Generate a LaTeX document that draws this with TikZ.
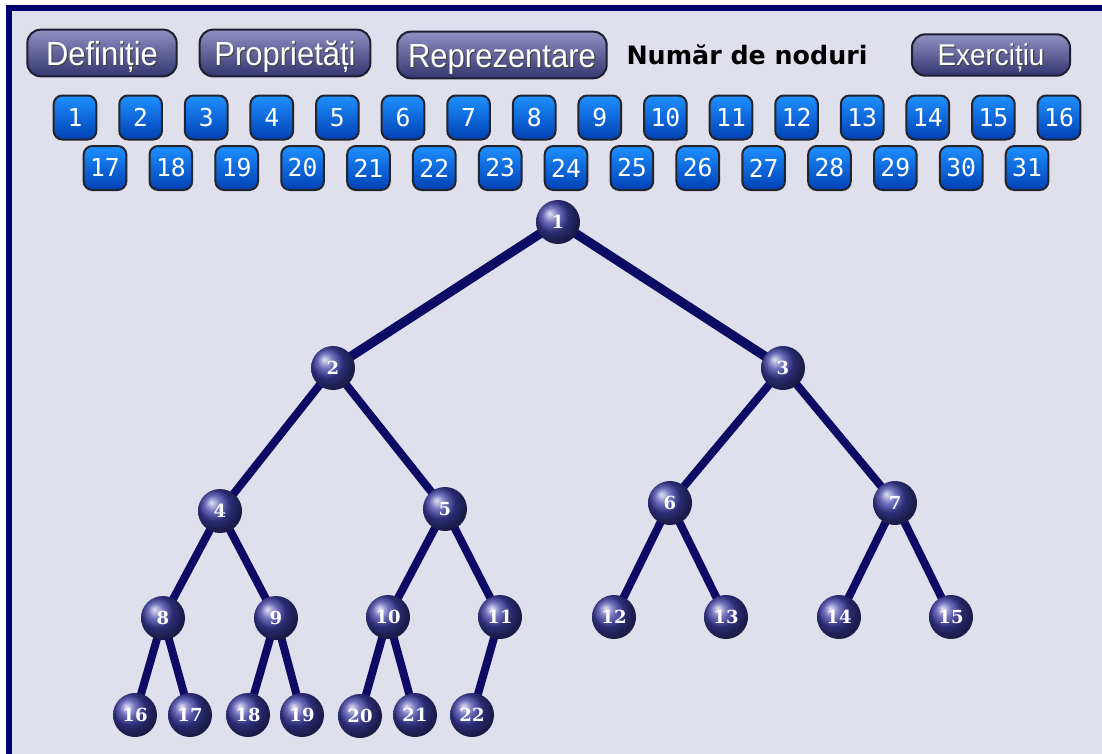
\documentclass[tikz,border=0pt]{standalone}
\usepackage{fontspec}
\setmainfont{Liberation Sans}
\newfontfamily\btnfont{Liberation Sans}
\newfontfamily\numfont{DejaVu Sans Mono}
\newfontfamily\ballfont{DejaVu Serif}
\newfontfamily\headfont{DejaVu Sans}

\definecolor{pagebg}{RGB}{224,224,236}
\definecolor{framec}{RGB}{0,0,112}
\definecolor{btntop}{RGB}{145,145,195}
\definecolor{btnbot}{RGB}{52,52,112}
\definecolor{btnedge}{RGB}{30,30,50}
\definecolor{boxtop}{RGB}{30,144,255}
\definecolor{boxbot}{RGB}{0,64,180}
\definecolor{boxedge}{RGB}{35,35,45}
\definecolor{ballc}{RGB}{62,62,165}
\definecolor{linkc}{RGB}{12,12,100}

% white label with a soft dark offset copy behind it
\newcommand\shtext[1]{\rlap{\kern0.9pt\raisebox{-0.9pt}{\textcolor{black!75}{#1}}}#1}

\pgfdeclarelayer{bg}
\pgfdeclarelayer{edgelayer}
\pgfsetlayers{bg,edgelayer,main}

\tikzset{
  menubtn/.style={draw=btnedge, line width=1.5pt, rounded corners=10pt,
    top color=btntop, bottom color=btnbot, inner sep=0pt, text=white,
    text height=18pt, text depth=0pt,
    font=\btnfont\fontsize{25}{25}\selectfont},
  numbox/.style={draw=boxedge, line width=1.5pt, rounded corners=6.5pt,
    top color=boxtop, bottom color=boxbot, minimum width=32pt,
    minimum height=33pt, inner sep=0pt, text=white,
    font=\numfont\fontsize{18.5}{18.5}\selectfont},
  ball/.style={circle, ball color=ballc, minimum size=33pt, inner sep=0pt,
    text=white, font=\ballfont\bfseries\fontsize{13.5}{13.5}\selectfont},
  link/.style={draw=linkc, line width=6pt},
  toplink/.style={draw=linkc, line width=7pt},
}

\begin{document}
\begin{tikzpicture}[x=0.75pt, y=-0.75pt]
\useasboundingbox (0,0) rectangle (1102,753);
\clip (0,0) rectangle (1102,753);

\begin{pgfonlayer}{bg}
  \fill[white] (0,0) rectangle (1102,753);
  \draw[framec, fill=pagebg, line width=4.5pt] (9,8) rectangle (1200,900);
\end{pgfonlayer}

% menu buttons
\node[menubtn, minimum width=112pt, minimum height=35pt] (bdef) at (102,53)
  {\scalebox{0.93}[1]{\shtext{Definiție}}};
\node[menubtn, minimum width=128pt, minimum height=35pt] (bprop) at (285,53)
  {\scalebox{0.93}[1]{\shtext{Proprietăți}}};
\node[menubtn, minimum width=157pt, minimum height=35pt] (brep) at (502,55)
  {\scalebox{0.93}[1]{\shtext{Reprezentare}}};
\node[font=\headfont\bfseries\fontsize{19}{19}\selectfont, inner sep=0pt] (title) at (747,55)
  {Număr de noduri};
\node[menubtn, minimum width=118.5pt, minimum height=31pt, text height=16pt,
  font=\btnfont\fontsize{22.5}{22.5}\selectfont] (bex) at (991,55)
  {\scalebox{0.93}[1]{\shtext{Exercițiu}}};

% numbered buttons
\foreach \i in {1,...,16}
  \node[numbox] (n\i) at ({75+65.6*(\i-1)},117.5) {\i};
\foreach \i in {17,...,31}
  \node[numbox] (n\i) at ({105+65.86*(\i-17)},168) {\i};

% tree nodes
\node[ball] (t1) at (558,222) {1};
\node[ball] (t2) at (333,368) {2};
\node[ball] (t3) at (783,368) {3};
\node[ball] (t4) at (220,511) {4};
\node[ball] (t5) at (445,509) {5};
\node[ball] (t6) at (670,503) {6};
\node[ball] (t7) at (895,503) {7};
\node[ball] (t8) at (163,618) {8};
\node[ball] (t9) at (276,618) {9};
\node[ball] (t10) at (388,617) {10};
\node[ball] (t11) at (500,617) {11};
\node[ball] (t12) at (614,617) {12};
\node[ball] (t13) at (726,617) {13};
\node[ball] (t14) at (839,617) {14};
\node[ball] (t15) at (951,617) {15};
\node[ball] (t16) at (135,715) {16};
\node[ball] (t17) at (190,715) {17};
\node[ball] (t18) at (248,715) {18};
\node[ball] (t19) at (302,715) {19};
\node[ball] (t20) at (360,716) {20};
\node[ball] (t21) at (415,715) {21};
\node[ball] (t22) at (472,715) {22};

% tree edges
\begin{pgfonlayer}{edgelayer}
  \draw[toplink] (t1.center) -- (t2.center);
  \draw[toplink] (t1.center) -- (t3.center);
  \foreach \p/\c in {2/4,2/5,3/6,3/7,4/8,4/9,5/10,5/11,6/12,6/13,7/14,7/15,
                     8/16,8/17,9/18,9/19,10/20,10/21,11/22}
    \draw[link] (t\p.center) -- (t\c.center);
\end{pgfonlayer}
\end{tikzpicture}
\end{document}
